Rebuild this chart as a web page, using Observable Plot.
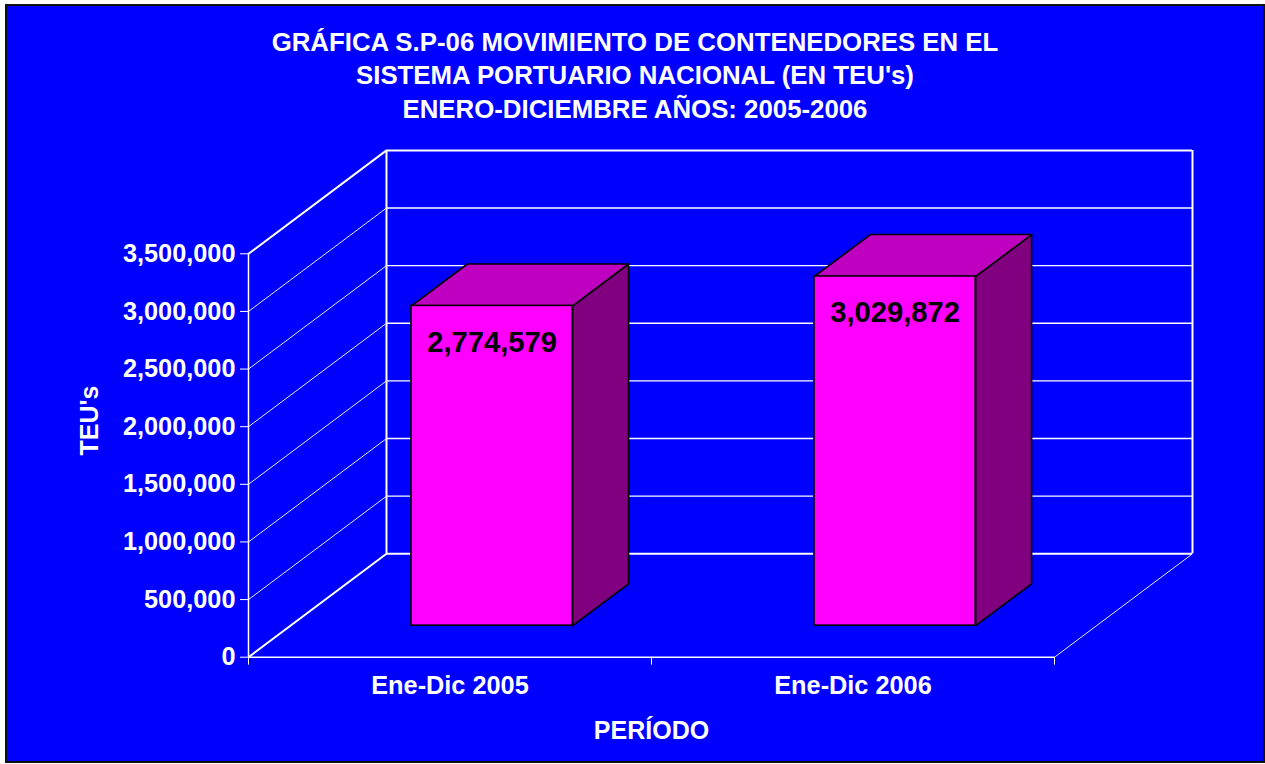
<!DOCTYPE html>
<html>
<head>
<meta charset="utf-8">
<script src="https://cdn.jsdelivr.net/npm/d3@7"></script>
<script src="https://cdn.jsdelivr.net/npm/@observablehq/plot@0.6"></script>
<style>
  html, body { margin: 0; padding: 0; background: #ffffff; }
  #chart {
    position: absolute; left: 5px; top: 4px;
    width: 1256px; height: 755px;
    border: 2px solid #111111;
    background: #0000ff;
    font-family: "Liberation Sans", Arial, sans-serif;
    color: #ffffff;
    overflow: hidden;
  }
  #title {
    height: 120px; box-sizing: border-box; padding-top: 20px;
    text-align: center; font-weight: bold; font-size: 25.8px; line-height: 33.3px;
  }
  #title div { white-space: nowrap; }
  #plot svg { display: block; }
</style>
</head>
<body>
<div id="chart">
  <div id="title"></div>
  <div id="plot"></div>
</div>
<script>
// ---- data ----
const titleLines = [
  "GRÁFICA S.P-06 MOVIMIENTO DE CONTENEDORES EN EL",
  "SISTEMA PORTUARIO NACIONAL (EN TEU's)",
  "ENERO-DICIEMBRE AÑOS: 2005-2006"
];
const categories = ["Ene-Dic 2005", "Ene-Dic 2006"];
const teus = [2774579, 3029872];
const yTicks = [0, 500000, 1000000, 1500000, 2000000, 2500000, 3000000, 3500000];
const yAxisTitle = "TEU's";
const xAxisTitle = "PERÍODO";

// ---- 3D geometry (in scale units) ----
const YMAX = 3500000;
const NCAT = categories.length;
const DX = 0.3424;      // depth shift along x (category units)
const DY = 897100;      // depth shift along y (value units)
const F1 = 0.305, F2 = 0.71; // bar depth (front / back) as fraction of wall depth
const HW = 0.2;         // half bar width

const fmt = d3.format(",");

d3.select("#title").selectAll("div").data(titleLines).join("div").text(d => d);

const bars = categories.map((c, i) => ({cat: c, value: teus[i], c: i + 0.5}));

const topFaces = [], sideFaces = [];
bars.forEach((b, i) => {
  const xl = b.c - HW, xr = b.c + HW, v = b.value;
  [[xl + F1*DX, v + F1*DY], [xr + F1*DX, v + F1*DY], [xr + F2*DX, v + F2*DY], [xl + F2*DX, v + F2*DY]]
    .forEach(([x, y]) => topFaces.push({id: i, x, y}));
  [[xr + F1*DX, F1*DY], [xr + F2*DX, F2*DY], [xr + F2*DX, v + F2*DY], [xr + F1*DX, v + F1*DY]]
    .forEach(([x, y]) => sideFaces.push({id: i, x, y}));
});

const innerTicks = yTicks.slice(1, -1);
const edgeTicks = [yTicks[0], yTicks[yTicks.length - 1]];

const chart = Plot.plot({
  width: 1256,
  height: 635,
  marginLeft: 241,
  marginRight: 209,
  marginTop: 127.3,
  marginBottom: 104.3,
  x: {type: "linear", domain: [0, NCAT]},
  y: {type: "linear", domain: [0, YMAX]},
  style: {
    background: "transparent",
    color: "white",
    fontFamily: "'Liberation Sans', Arial, sans-serif",
    fontSize: "25px",
    fontWeight: "bold",
    overflow: "visible"
  },
  marks: [
    // back wall gridlines
    Plot.ruleY(innerTicks, {y: t => t + DY, x1: () => DX, x2: () => NCAT + DX, stroke: "white", strokeWidth: 1.4}),
    Plot.ruleY(edgeTicks, {y: t => t + DY, x1: () => DX, x2: () => NCAT + DX, stroke: "white", strokeWidth: 2}),
    // back wall verticals
    Plot.ruleX([DX, NCAT + DX], {x: d => d, y1: () => DY, y2: () => YMAX + DY, stroke: "white", strokeWidth: 2}),
    // side wall diagonals
    Plot.link(innerTicks, {x1: () => 0, y1: t => t, x2: () => DX, y2: t => t + DY, stroke: "#e8e8ff", strokeWidth: 1}),
    Plot.link(edgeTicks, {x1: () => 0, y1: t => t, x2: () => DX, y2: t => t + DY, stroke: "white", strokeWidth: 2}),
    // floor
    Plot.ruleY([0], {x1: () => 0, x2: () => NCAT, stroke: "white", strokeWidth: 1.5}),
    Plot.link([NCAT], {x1: d => d, y1: () => 0, x2: d => d + DX, y2: () => DY, stroke: "#e8e8ff", strokeWidth: 1}),
    // front value axis line
    Plot.ruleX([0], {x: d => d, y1: () => 0, y2: () => YMAX, stroke: "white", strokeWidth: 1.5}),
    // axes
    Plot.axisY({ticks: yTicks, tickSize: 8, tickPadding: 5, tickFormat: fmt, label: null,
      fontSize: 25.3, fontWeight: "bold", fill: "white", stroke: "white"}),
    Plot.axisX({ticks: d3.range(NCAT + 1), tickSize: 8, tickFormat: () => "", label: null, stroke: "white"}),
    Plot.text(categories, {x: (d, i) => i + 0.5, y: () => 0, dy: 29, text: d => d, lineAnchor: "middle",
      fill: "white", fontSize: 25.3, fontWeight: "bold"}),
    // bars: side, top, front
    Plot.line(sideFaces, {x: "x", y: "y", z: "id", curve: "linear-closed", fill: "#800080", stroke: "black", strokeWidth: 1.6}),
    Plot.line(topFaces, {x: "x", y: "y", z: "id", curve: "linear-closed", fill: "#c000c0", stroke: "black", strokeWidth: 1.6}),
    Plot.rect(bars, {x1: d => d.c - HW + F1*DX, x2: d => d.c + HW + F1*DX, y1: () => F1*DY, y2: d => d.value + F1*DY,
      fill: "#ff00ff", stroke: "black", strokeWidth: 1.6}),
    // value labels
    Plot.text(bars, {x: d => d.c + F1*DX, y: d => d.value, dy: 5, text: d => fmt(d.value), lineAnchor: "middle",
      fill: "black", fontSize: 29.2, fontWeight: "bold"}),
    // axis titles
    Plot.text([yAxisTitle], {text: d => d, frameAnchor: "left", dx: -159, rotate: -90, lineAnchor: "middle",
      fill: "white", fontSize: 25, fontWeight: "bold"}),
    Plot.text([xAxisTitle], {text: d => d, frameAnchor: "bottom", dy: 74, lineAnchor: "middle",
      fill: "white", fontSize: 25, fontWeight: "bold"})
  ]
});
document.getElementById("plot").appendChild(chart);
</script>
</body>
</html>
